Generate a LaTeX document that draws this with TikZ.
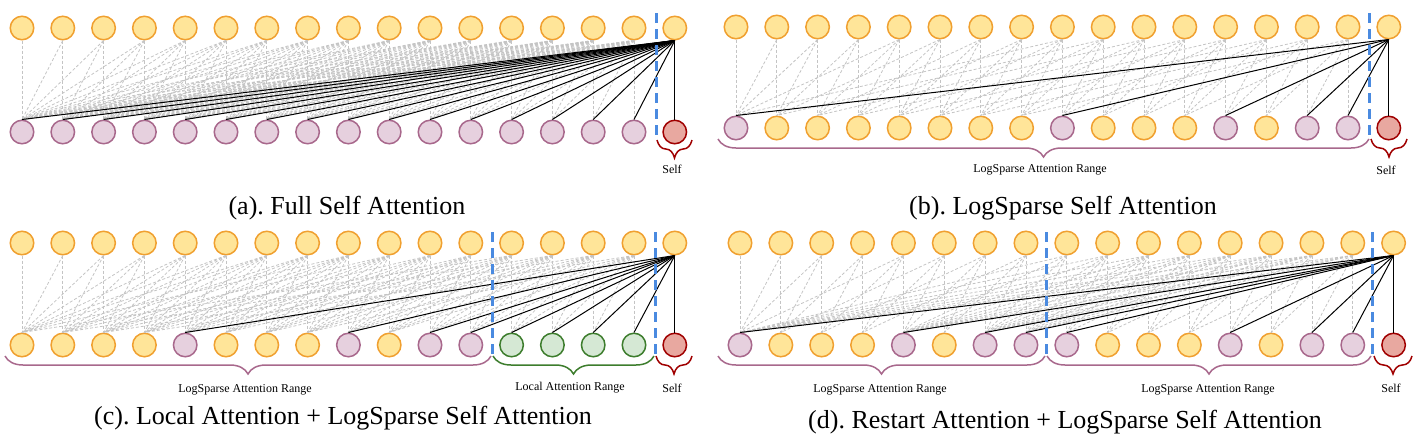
\documentclass[tikz,border=0pt]{standalone}
\usepackage{fontspec}
\setmainfont{Liberation Serif}
\usetikzlibrary{decorations.pathreplacing}
\frenchspacing
\definecolor{ylF}{HTML}{FFE599}
\definecolor{ylD}{HTML}{F0A030}
\definecolor{pkF}{HTML}{E6D0DE}
\definecolor{pkD}{HTML}{A8688C}
\definecolor{grF}{HTML}{D5E8D4}
\definecolor{grD}{HTML}{3D7D2D}
\definecolor{rdF}{HTML}{E8A8A0}
\definecolor{rdD}{HTML}{A00000}
\definecolor{blueD}{HTML}{4A8AE0}
\definecolor{grayL}{HTML}{C4C4C4}
\begin{document}
\begin{tikzpicture}[x=1pt,y=-1pt,
 cell/.style={circle, minimum size=23.5pt, inner sep=0pt, line width=1.5pt},
 yl/.style={cell, draw=ylD, fill=ylF},
 pk/.style={cell, draw=pkD, fill=pkF},
 gr/.style={cell, draw=grD, fill=grF},
 rd/.style={cell, draw=rdD, fill=rdF},
 ghost/.style={draw=grayL, dash pattern=on 3pt off 2pt, line width=0.8pt},
 attn/.style={draw=black, line width=1pt},
 sepline/.style={draw=blueD, line width=3pt, dash pattern=on 10pt off 6pt},
 brc/.style={decorate, decoration={brace, mirror, amplitude=18pt}, line width=1.5pt},
 captxt/.style={font=\fontsize{26}{30}\selectfont},
 lbl/.style={font=\fontsize{12}{14}\selectfont},
]
\useasboundingbox (0,0) rectangle (1421,445);

% ---------------- (a) ----------------
\foreach \i in {0,...,16} \node[yl] (a-t-\i) at ({22+40.8*\i},28) {};
\foreach \s [count=\k from 0] in {pk,pk,pk,pk,pk,pk,pk,pk,pk,pk,pk,pk,pk,pk,pk,pk,rd}
  \node[\s] (a-b-\k) at ({22+40.8*\k},132) {};
\foreach \i in {0,...,15} \foreach \j in {0,...,\i}
  \draw[ghost] (a-t-\i.south) -- (a-b-\j.north);
\foreach \j in {0,...,16} \draw[attn] (a-t-16.south) -- (a-b-\j.north);
\coordinate (a-s1) at (656,13); \coordinate (a-s2) at (656,141);
\draw[sepline] (a-s1) -- (a-s2);
\coordinate (a-br1) at (657,140); \coordinate (a-br2) at (692,140);
\draw[brc, draw=rdD] (a-br1) -- (a-br2);
\node[lbl] (a-self) at (672,169) {Self};
\node[captxt] (a-cap) at (347,208) {(a). Full Self Attention};

% ---------------- (b) ----------------
\foreach \i in {0,...,16} \node[yl] (b-t-\i) at ({736+40.8*\i},27) {};
\foreach \s [count=\k from 0] in {pk,yl,yl,yl,yl,yl,yl,yl,pk,yl,yl,yl,pk,yl,pk,pk,rd}
  \node[\s] (b-b-\k) at ({736+40.8*\k},128) {};
\foreach \i in {0,...,15} \foreach \d in {0,1,2,4,8} {
  \pgfmathtruncatemacro\jj{\i-\d}
  \ifnum\jj>-1 \draw[ghost] (b-t-\i.south) -- (b-b-\jj.north); \fi
}
\foreach \j in {16,15,14,12,8,0} \draw[attn] (b-t-16.south) -- (b-b-\j.north);
\coordinate (b-s1) at (1369,13); \coordinate (b-s2) at (1369,140);
\draw[sepline] (b-s1) -- (b-s2);
\coordinate (b-br1) at (718,139); \coordinate (b-br2) at (1369,139);
\draw[brc, draw=pkD] (b-br1) -- (b-br2);
\coordinate (b-br3) at (1371,139); \coordinate (b-br4) at (1407,139);
\draw[brc, draw=rdD] (b-br3) -- (b-br4);
\node[lbl] (b-lbl) at (1040,170) {LogSparse Attention Range};
\node[lbl] (b-self) at (1386,170) {Self};
\node[captxt] (b-cap) at (1063,208) {(b). LogSparse Self Attention};

% ---------------- (c) ----------------
\foreach \i in {0,...,16} \node[yl] (c-t-\i) at ({22+40.8*\i},243) {};
\foreach \s [count=\k from 0] in {yl,yl,yl,yl,pk,yl,yl,yl,pk,yl,pk,pk,gr,gr,gr,gr,rd}
  \node[\s] (c-b-\k) at ({22+40.8*\k},345) {};
\foreach \i in {0,...,15} \foreach \d in {0,1,2,3,4,5,6,8,12} {
  \pgfmathtruncatemacro\jj{\i-\d}
  \ifnum\jj>-1 \draw[ghost] (c-t-\i.south) -- (c-b-\jj.north); \fi
}
\foreach \j in {16,15,14,13,12,11,10,8,4} \draw[attn] (c-t-16.south) -- (c-b-\j.north);
\coordinate (c-s1) at (492,232); \coordinate (c-s2) at (492,357);
\draw[sepline] (c-s1) -- (c-s2);
\coordinate (c-s3) at (655,232); \coordinate (c-s4) at (655,357);
\draw[sepline] (c-s3) -- (c-s4);
\coordinate (c-br1) at (5,356); \coordinate (c-br2) at (491,356);
\draw[brc, draw=pkD] (c-br1) -- (c-br2);
\coordinate (c-br3) at (493,356); \coordinate (c-br4) at (654,356);
\draw[brc, draw=grD] (c-br3) -- (c-br4);
\coordinate (c-br5) at (656,356); \coordinate (c-br6) at (692,356);
\draw[brc, draw=rdD] (c-br5) -- (c-br6);
\node[lbl] (c-lbl1) at (245,390) {LogSparse Attention Range};
\node[lbl] (c-lbl2) at (570,388) {Local Attention Range};
\node[lbl] (c-self) at (672,388) {Self};
\node[captxt] (c-cap) at (343,418) {(c). Local Attention + LogSparse Self Attention};

% ---------------- (d) ----------------
\foreach \i in {0,...,16} \node[yl] (d-t-\i) at ({740+40.85*\i},243) {};
\foreach \s [count=\k from 0] in {pk,yl,yl,yl,pk,yl,pk,pk,pk,yl,yl,yl,pk,yl,pk,pk,rd}
  \node[\s] (d-b-\k) at ({740+40.85*\k},345) {};
\foreach \i in {0,...,15} {
  \pgfmathtruncatemacro\ss{\i<8 ? 0 : 8}
  \foreach \d in {0,1,2,4,8} {
    \pgfmathtruncatemacro\jj{\i-\d}
    \ifnum\jj<\ss\relax\else \draw[ghost] (d-t-\i.south) -- (d-b-\jj.north); \fi
  }
  \ifnum\ss=8
    \foreach \j in {7,6,4,0} \draw[ghost] (d-t-\i.south) -- (d-b-\j.north);
  \fi
}
\foreach \j in {16,15,14,12,8,7,6,4,0} \draw[attn] (d-t-16.south) -- (d-b-\j.north);
\coordinate (d-s1) at (1046,232); \coordinate (d-s2) at (1046,357);
\draw[sepline] (d-s1) -- (d-s2);
\coordinate (d-s3) at (1372,232); \coordinate (d-s4) at (1372,357);
\draw[sepline] (d-s3) -- (d-s4);
\coordinate (d-br1) at (718,356); \coordinate (d-br2) at (1045,356);
\draw[brc, draw=pkD] (d-br1) -- (d-br2);
\coordinate (d-br3) at (1047,356); \coordinate (d-br4) at (1371,356);
\draw[brc, draw=pkD] (d-br3) -- (d-br4);
\coordinate (d-br5) at (1374,356); \coordinate (d-br6) at (1412,356);
\draw[brc, draw=rdD] (d-br5) -- (d-br6);
\node[lbl] (d-lbl1) at (880,390) {LogSparse Attention Range};
\node[lbl] (d-lbl2) at (1208,390) {LogSparse Attention Range};
\node[lbl] (d-self) at (1391,388) {Self};
\node[captxt] (d-cap) at (1065,422) {(d). Restart Attention + LogSparse Self Attention};
\end{tikzpicture}
\end{document}
